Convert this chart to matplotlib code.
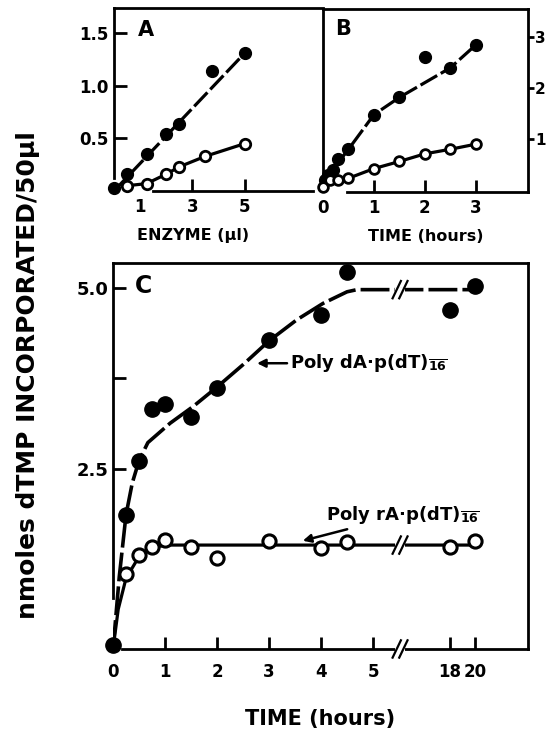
import numpy as np
import matplotlib
matplotlib.use("Agg")
import matplotlib.pyplot as plt
from matplotlib import transforms

plt.rcParams['font.family'] = ['DejaVu Sans']
plt.rcParams['font.weight'] = 'bold'
plt.rcParams['axes.labelweight'] = 'bold'
plt.rcParams['mathtext.default'] = 'bf'

# ---------------- Data ----------------
# Panel A: enzyme (ul) vs nmol
a_enzyme_filled = [0, 0.5, 1.25, 2.0, 2.5, 3.75, 5.0]
a_value_filled = [0.03, 0.16, 0.35, 0.54, 0.64, 1.14, 1.31]
a_enzyme_open = [0.5, 1.25, 2.0, 2.5, 3.5, 5.0]
a_value_open = [0.05, 0.07, 0.16, 0.23, 0.33, 0.45]
a_fit_filled_x = [0, 5.0]
a_fit_filled_y = [0.0, 1.31]

# Panel B: time (h) vs nmol
b_time_filled = [0.033, 0.1, 0.2, 0.29, 0.5, 1.0, 1.5, 2.0, 2.5, 3.0]
b_value_filled = [0.2, 0.3, 0.4, 0.6, 0.8, 1.48, 1.82, 2.62, 2.4, 2.85]
b_time_open = [0, 0.13, 0.29, 0.5, 1.0, 1.5, 2.0, 2.5, 3.0]
b_value_open = [0.06, 0.2, 0.2, 0.23, 0.42, 0.56, 0.71, 0.8, 0.9]
b_fit_filled_x = [0, 0.5, 1.0, 1.5, 2.5, 3.0]
b_fit_filled_y = [0.15, 0.8, 1.48, 1.82, 2.4, 2.85]

# Panel C: time (h) vs nmol
c_time_dA = [0, 0.25, 0.5, 0.75, 1.0, 1.5, 2.0, 3.0, 4.0, 4.5, 18, 20]
c_value_dA = [0.05, 1.86, 2.61, 3.33, 3.40, 3.22, 3.62, 4.28, 4.63, 5.22, 4.70, 5.03]
c_time_rA = [0.25, 0.5, 0.75, 1.0, 1.5, 2.0, 3.0, 4.0, 4.5, 18, 20]
c_value_rA = [1.04, 1.30, 1.41, 1.51, 1.42, 1.26, 1.49, 1.40, 1.48, 1.41, 1.49]
c_fit_dA_t = [0, 0.12, 0.25, 0.37, 0.5, 0.67, 1.1, 1.54, 2.0, 2.5, 3.0, 3.53, 4.04, 4.5, 4.69, 20]
c_fit_dA_y = [0, 1.0, 1.86, 2.3, 2.61, 2.86, 3.13, 3.36, 3.63, 3.94, 4.27, 4.56, 4.79, 4.95, 4.98, 4.98]
c_fit_rA_t = [0, 0.1, 0.25, 0.5, 0.75, 1.0, 20]
c_fit_rA_y = [0, 0.55, 0.98, 1.28, 1.40, 1.44, 1.44]

c_xticks = [0, 1, 2, 3, 4, 5, 18, 20]
c_xticklabels = ['0', '1', '2', '3', '4', '5', '18', '20']

# --------------- Figure ---------------
fig = plt.figure(figsize=(5.46, 7.30), dpi=100)
axA = fig.add_axes([0.2088, 0.7384, 0.3828, 0.2507])
axB = fig.add_axes([0.5916, 0.737, 0.3755, 0.2507])
axC = fig.add_axes([0.207, 0.111, 0.760, 0.5288])

SW = 2.0
for ax in (axA, axB, axC):
    for s in ax.spines.values():
        s.set_linewidth(SW)
    ax.set_facecolor('none')

tickfs = 12

def filled(ax, x, y, ms):
    ax.plot(x, y, 'o', color='k', ms=ms, zorder=5, clip_on=False)

def opened(ax, x, y, ms, mew=2):
    ax.plot(x, y, 'o', mfc='white', mec='k', ms=ms, mew=mew, zorder=6, clip_on=False)

# ---- Panel A ----
axA.set_xlim(0, 8)
axA.set_ylim(0, 1.74)
axA.plot(a_fit_filled_x, a_fit_filled_y, color='k', lw=2.3, dashes=(6, 1.3), zorder=3)
axA.plot(a_enzyme_open, a_value_open, color='k', lw=2.3, zorder=3)
filled(axA, a_enzyme_filled, a_value_filled, 8.5)
opened(axA, a_enzyme_open, a_value_open, 7.5)
axA.spines['right'].set_visible(False)
axA.spines['bottom'].set_bounds(1.5, 7.6)
axA.spines['left'].set_bounds(0.12, 1.74)
axA.set_xticks([1, 3, 5])
axA.set_xticklabels(['1', '3', '5'], fontsize=tickfs)
axA.set_yticks([0.5, 1.0, 1.5])
axA.set_yticklabels(['0.5', '1.0', '1.5'], fontsize=tickfs)
axA.tick_params(axis='both', direction='in', length=9, width=2)
axA.tick_params(axis='x', pad=5)
axA.tick_params(axis='y', pad=4)
axA.xaxis.get_major_ticks()[0].tick1line.set_visible(False)
axA.set_xlabel('ENZYME (\u00b5l)', fontsize=11.5)
axA.xaxis.set_label_coords(0.38, -0.20)
axA.text(0.115, 0.88, 'A', transform=axA.transAxes, fontsize=15, fontweight='heavy', va='center')

# ---- Panel B ----
axB.set_xlim(0, 4.03)
axB.set_ylim(-0.04, 3.56)
axB.plot(b_fit_filled_x, b_fit_filled_y, color='k', lw=2.3, dashes=(6, 1.3), zorder=3)
axB.plot(b_time_open, b_value_open, color='k', lw=2.3, zorder=3)
filled(axB, b_time_filled, b_value_filled, 8.5)
opened(axB, b_time_open, b_value_open, 7.0)
axB.spines['left'].set_bounds(0.2, 3.56)
axB.spines['bottom'].set_bounds(0.47, 4.03)
axB.yaxis.tick_right()
axB.set_xticks([0, 1, 2, 3])
axB.set_xticklabels(['0', '1', '2', '3'], fontsize=tickfs)
axB.set_yticks([1, 2, 3])
axB.set_yticklabels(['1', '2', '3'], fontsize=11)
axB.tick_params(axis='x', direction='in', length=9, width=2, pad=5)
axB.tick_params(axis='y', direction='out', length=4, width=2, pad=1)
axB.xaxis.get_major_ticks()[0].tick1line.set_visible(False)
axB.set_xlabel('TIME (hours)', fontsize=11.5)
axB.xaxis.set_label_coords(0.5, -0.20)
axB.text(0.058, 0.89, 'B', transform=axB.transAxes, fontsize=15, fontweight='heavy', va='center')

# ---- Panel C ----
knots_in = [0, 5, 18, 40]
knots_out = [0, 5, 6.48, 11.76]
def fwd(t):
    t = np.asarray(t, float)
    return np.where(t < 0, t, np.interp(t, knots_in, knots_out))
def inv(x):
    x = np.asarray(x, float)
    return np.where(x < 0, x, np.interp(x, knots_out, knots_in))
axC.set_xscale('function', functions=(fwd, inv))
axC.set_xlim(0, float(inv(7.98)))
axC.set_ylim(0, 5.35)
axC.plot(c_fit_dA_t, c_fit_dA_y, color='k', lw=2.6, dashes=(8, 1.4), zorder=3)
axC.plot(c_fit_rA_t, c_fit_rA_y, color='k', lw=2.3, zorder=3)
filled(axC, c_time_dA, c_value_dA, 11)
opened(axC, c_time_rA, c_value_rA, 9.5, mew=2.2)
axC.spines['left'].set_bounds(0.7, 5.35)
axC.spines['bottom'].set_bounds(0.17, float(inv(7.98)))
axC.set_xticks(c_xticks)
axC.set_xticklabels(c_xticklabels, fontsize=12)
axC.xaxis.get_major_ticks()[0].tick1line.set_visible(False)
axC.set_yticks([2.5, 3.75, 5.0])
axC.set_yticklabels(['2.5', '', '5.0'], fontsize=13)
axC.tick_params(axis='both', direction='in', length=9, width=2)
axC.tick_params(axis='x', pad=10)
axC.tick_params(axis='y', pad=3)
axC.set_xlabel('TIME (hours)', fontsize=15, labelpad=20)
axC.text(0.053, 0.94, 'C', transform=axC.transAxes, fontsize=17, fontweight='heavy', va='center')

# break marks
bxf = 5.52 / 7.98
trans = transforms.blended_transform_factory(axC.transAxes, axC.transData)
for yb in (4.98, 1.44, 0.0):
    axC.plot([bxf - 0.012, bxf + 0.012], [yb, yb], color='white', lw=4, transform=trans,
             zorder=4, clip_on=False, solid_capstyle='butt')
    for dx in (-0.008, 0.008):
        axC.plot([bxf + dx - 0.010, bxf + dx + 0.010], [yb - 0.12, yb + 0.12], color='k', lw=1.6,
                 transform=trans, zorder=4, clip_on=False)

axC.annotate('Poly dA\u00b7p(dT)$_{\\overline{16}}$', xy=(2.77, 3.96), xytext=(3.4, 3.96),
             fontsize=13, va='center', ha='left',
             arrowprops=dict(arrowstyle='-|>', color='k', lw=1.8, mutation_scale=12, shrinkA=0, shrinkB=0))
axC.annotate('Poly rA\u00b7p(dT)$_{\\overline{16}}$', xy=(3.65, 1.5), xytext=(4.1, 1.86),
             fontsize=13, va='center', ha='left',
             arrowprops=dict(arrowstyle='-|>', color='k', lw=1.8, mutation_scale=12, shrinkA=2, shrinkB=0))

fig.text(0.052, 0.486, 'nmoles dTMP INCORPORATED/50\u00b5l', rotation=90, ha='center', va='center',
         fontsize=18)

fig.savefig('out.png', dpi=100)
